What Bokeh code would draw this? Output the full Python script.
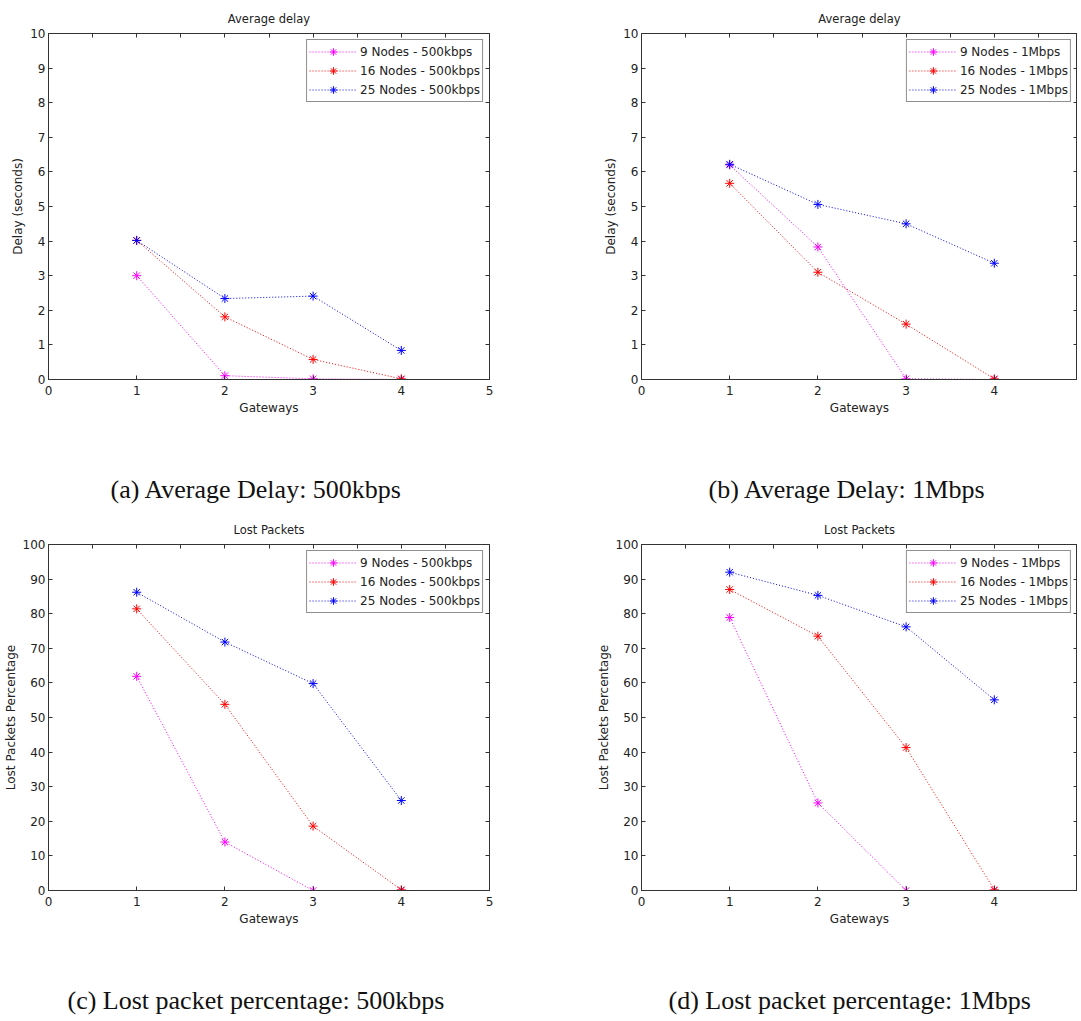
from bokeh.plotting import figure
from bokeh.layouts import column, row
from bokeh.models import Range1d, LinearAxis, FixedTicker, Title
from bokeh.embed import file_html
from bokeh.resources import INLINE

# ---------------- data ----------------
gateways = [1, 2, 3, 4]

delay_500_9 = [3.0, 0.11, 0.02, 0.0]
delay_500_16 = [4.02, 1.81, 0.58, 0.02]
delay_500_25 = [4.02, 2.34, 2.41, 0.84]

delay_1m_9 = [6.2, 3.83, 0.02, 0.0]
delay_1m_16 = [5.67, 3.1, 1.6, 0.02]
delay_1m_25 = [6.22, 5.06, 4.5, 3.36]

lost_500_9 = [61.9, 14.0, 0.0, 0.0]
lost_500_16 = [81.4, 53.8, 18.6, 0.2]
lost_500_25 = [86.2, 71.8, 59.8, 26.0]

lost_1m_9 = [78.9, 25.3, 0.0, 0.0]
lost_1m_16 = [87.0, 73.5, 41.3, 0.2]
lost_1m_25 = [92.0, 85.3, 76.2, 55.1]

labels_500 = ["9 Nodes - 500kbps", "16 Nodes - 500kbps", "25 Nodes - 500kbps"]
labels_1m = ["9 Nodes - 1Mbps", "16 Nodes - 1Mbps", "25 Nodes - 1Mbps"]
series_colors = ["#FF00FF", "#FF0000", "#0000FF"]

x_ticks = [0, 1, 2, 3, 4, 5]
x_ticks_top = [0, 0.5, 1, 1.5, 2, 2.5, 3, 3.5, 4, 4.5, 5]
delay_ticks = [0, 1, 2, 3, 4, 5, 6, 7, 8, 9, 10]
lost_ticks = [0, 10, 20, 30, 40, 50, 60, 70, 80, 90, 100]

SANS = "DejaVu Sans"
SERIF = "Liberation Serif"
TXT = "#222222"
LINE = "#333333"


def blank_axis(ticks, tick_in, tick_out, tick_color):
    return LinearAxis(ticker=FixedTicker(ticks=ticks),
                      major_label_text_font_size="0px",
                      major_label_text_color=None,
                      major_label_standoff=0,
                      major_tick_in=tick_in, major_tick_out=tick_out,
                      minor_tick_line_color=None, axis_line_color=None,
                      major_tick_line_color=tick_color)


def make(title, ylabel, ymax, yticks, ys, labels, caption, caption_offset,
         left_border, right_border, frame_w, xend, bottom_border):
    p = figure(width=100, height=100, frame_width=frame_w, frame_height=346,
               x_range=Range1d(0, xend), y_range=Range1d(0, ymax),
               output_backend="svg", toolbar_location=None,
               min_border_left=left_border, min_border_right=right_border,
               min_border_top=33, min_border_bottom=bottom_border)
    p.background_fill_color = "white"
    p.border_fill_color = "white"
    p.outline_line_color = LINE
    p.grid.visible = False

    p.title.text = title
    p.title.align = "center"
    p.title.text_font = SANS
    p.title.text_font_size = "11.5px"
    p.title.text_font_style = "normal"
    p.title.text_color = TXT
    p.title.standoff = 15

    for ax in (p.xaxis[0], p.yaxis[0]):
        ax.major_tick_in = 4
        ax.major_tick_out = 0
        ax.minor_tick_line_color = None
        ax.axis_line_color = LINE
        ax.major_tick_line_color = LINE
        ax.major_label_text_font = SANS
        ax.major_label_text_font_size = "12px"
        ax.major_label_text_color = TXT
        ax.axis_label_text_font = SANS
        ax.axis_label_text_font_size = "12px"
        ax.axis_label_text_font_style = "normal"
        ax.axis_label_text_color = TXT
    p.xaxis[0].ticker = FixedTicker(ticks=x_ticks)
    p.xaxis[0].axis_label = "Gateways"
    p.xaxis[0].major_label_standoff = 6
    p.xaxis[0].axis_label_standoff = 3
    p.yaxis[0].ticker = FixedTicker(ticks=yticks)
    p.yaxis[0].axis_label = ylabel
    p.yaxis[0].major_label_standoff = 3
    p.yaxis[0].axis_label_standoff = 2

    # mirrored ticks on the top and right edges of the box
    p.add_layout(blank_axis(x_ticks_top, 4, 0, LINE), "above")
    p.add_layout(blank_axis(yticks, 4, 0, LINE), "right")

    for yv, lab, col in zip(ys, labels, series_colors):
        p.line(gateways, yv, line_color=col, line_width=1, line_dash="1 2",
               legend_label=lab)
        p.scatter(gateways, yv, marker="asterisk", size=9, line_color=col,
                  line_width=1, legend_label=lab)

    lg = p.legend[0]
    lg.location = "top_right"
    lg.margin = 6
    lg.padding = 2
    lg.spacing = 0
    lg.glyph_width = 48
    lg.glyph_height = 19
    lg.label_height = 19
    lg.label_standoff = 3
    lg.label_text_font = SANS
    lg.label_text_font_size = "12px"
    lg.label_text_color = TXT
    lg.border_line_color = "#222222"
    lg.border_line_width = 1
    lg.background_fill_color = "white"
    lg.background_fill_alpha = 1.0

    # blank spacer band between the x axis and the caption
    p.add_layout(blank_axis([0], 0, 54, "white"), "below")
    p.add_layout(Title(text=caption, align="left", offset=caption_offset,
                       text_font=SERIF, text_font_size="26px",
                       text_font_style="normal", text_color="#111111",
                       standoff=2), "below")
    return p


pa = make("Average delay", "Delay (seconds)", 10, delay_ticks,
          [delay_500_9, delay_500_16, delay_500_25], labels_500,
          "(a) Average Delay: 500kbps", 62, 48, 50, 441, 5, 132)
pb = make("Average delay", "Delay (seconds)", 10, delay_ticks,
          [delay_1m_9, delay_1m_16, delay_1m_25], labels_1m,
          "(b) Average Delay: 1Mbps", 67, 102, 0, 436, 436 / 88.2, 132)
pc = make("Lost Packets", "Lost Packets Percentage", 100, lost_ticks,
          [lost_500_9, lost_500_16, lost_500_25], labels_500,
          "(c) Lost packet percentage: 500kbps", 19, 48, 50, 441, 5, 124)
pd = make("Lost Packets", "Lost Packets Percentage", 100, lost_ticks,
          [lost_1m_9, lost_1m_16, lost_1m_25], labels_1m,
          "(d) Lost packet percentage: 1Mbps", 27, 102, 0, 436, 436 / 88.2, 124)

layout = column(row(pa, pb), row(pc, pd))

with open("out.html", "w") as f:
    f.write(file_html(layout, INLINE))
